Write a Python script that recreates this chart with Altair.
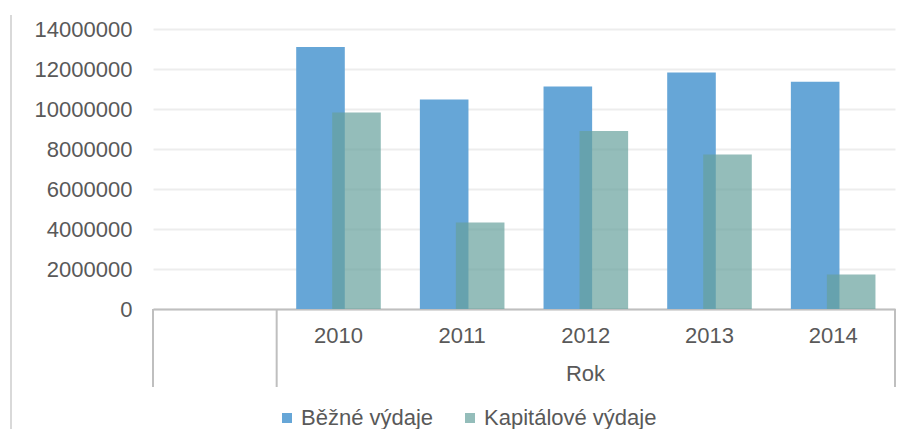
import altair as alt
import pandas as pd

# ---- data ----
years = ["2010", "2011", "2012", "2013", "2014"]
bezne = [13100000, 10480000, 11120000, 11820000, 11360000]
kapitalove = [9820000, 4330000, 8900000, 7720000, 1720000]
series_names = ["Běžné výdaje", "Kapitálové výdaje"]
y_ticks = [0, 2000000, 4000000, 6000000, 8000000, 10000000, 12000000, 14000000]
blank_cat = " "
x_domain = [blank_cat] + years
boundary_cats = [blank_cat, "2010"]

rows = []
for y, b, k in zip(years, bezne, kapitalove):
    rows.append({"rok": y, "serie": series_names[0], "hodnota": b})
    rows.append({"rok": y, "serie": series_names[1], "hodnota": k})
df = pd.DataFrame(rows)
bdf = pd.DataFrame({"rok": boundary_cats})

FONT = "Liberation Sans"
TXT = "#595959"
LINE = "#BFBFBF"

xscale = alt.Scale(domain=x_domain, paddingInner=0, paddingOuter=0)
yscale = alt.Scale(domain=[0, 14000000], nice=False)
cscale = alt.Scale(domain=series_names, range=["#66A6D7", "rgba(102,161,156,0.7)"])

legend = alt.Legend(
    title=None, orient="none", legendX=123, legendY=378, direction="horizontal",
    symbolType="square", symbolSize=100, symbolStrokeWidth=0,
    labelFontSize=22, labelColor=TXT, labelFont=FONT, labelOffset=3, labelLimit=400,
    columnPadding=25, padding=0,
)

xaxis = alt.Axis(
    title="Rok", titleFontSize=22, titleFont=FONT, titleColor=TXT, titleFontWeight="normal",
    titleX=432, titleY=71.5, titleAlign="center", titleBaseline="alphabetic", titleAnchor="start",
    labelFontSize=22, labelFont=FONT, labelColor=TXT, labelAngle=0, labelPadding=16,
    ticks=False, grid=False, domainColor=LINE, domainWidth=2,
)
yaxis = alt.Axis(
    title=None, values=y_ticks, format="d", labelFontSize=22, labelFont=FONT, labelColor=TXT,
    labelPadding=21, ticks=False, domain=False, gridColor="#EDEDED", gridWidth=2,
)

base = alt.Chart(df)

bar1 = base.transform_filter(alt.datum.serie == series_names[0]).mark_bar(
    width=48.6, xOffset=-18
).encode(
    x=alt.X("rok:N", scale=xscale, axis=xaxis, sort=x_domain),
    y=alt.Y("hodnota:Q", scale=yscale, axis=yaxis),
    color=alt.Color("serie:N", scale=cscale, legend=legend),
)
bar2 = base.transform_filter(alt.datum.serie == series_names[1]).mark_bar(
    width=48.6, xOffset=18
).encode(
    x=alt.X("rok:N", scale=xscale, axis=xaxis, sort=x_domain),
    y=alt.Y("hodnota:Q", scale=yscale, axis=yaxis),
    color=alt.Color("serie:N", scale=cscale, legend=legend),
)

bounds = alt.Chart(bdf).mark_rule(color=LINE, strokeWidth=2).encode(
    x=alt.X("rok:N", scale=xscale, axis=xaxis, bandPosition=0, sort=x_domain),
    y=alt.value(280), y2=alt.value(358),
)
right_edge = alt.Chart(bdf).mark_rule(color=LINE, strokeWidth=2).encode(
    x=alt.value(742), y=alt.value(280), y2=alt.value(358),
)
frame = alt.Chart(bdf).mark_rule(color="#D9D9D9", strokeWidth=2).encode(
    x=alt.value(-142), y=alt.value(-14), y2=alt.value(420),
)

chart = alt.layer(bar1, bar2, bounds, right_edge, frame).properties(
    width=742, height=280,
    autosize=alt.AutoSizeParams(type="none"),
    padding={"left": 145, "top": 21, "right": 6, "bottom": 120},
).configure(font=FONT).configure_view(strokeWidth=0)

chart.save("out.html", embed_options={"renderer": "svg", "actions": False})
